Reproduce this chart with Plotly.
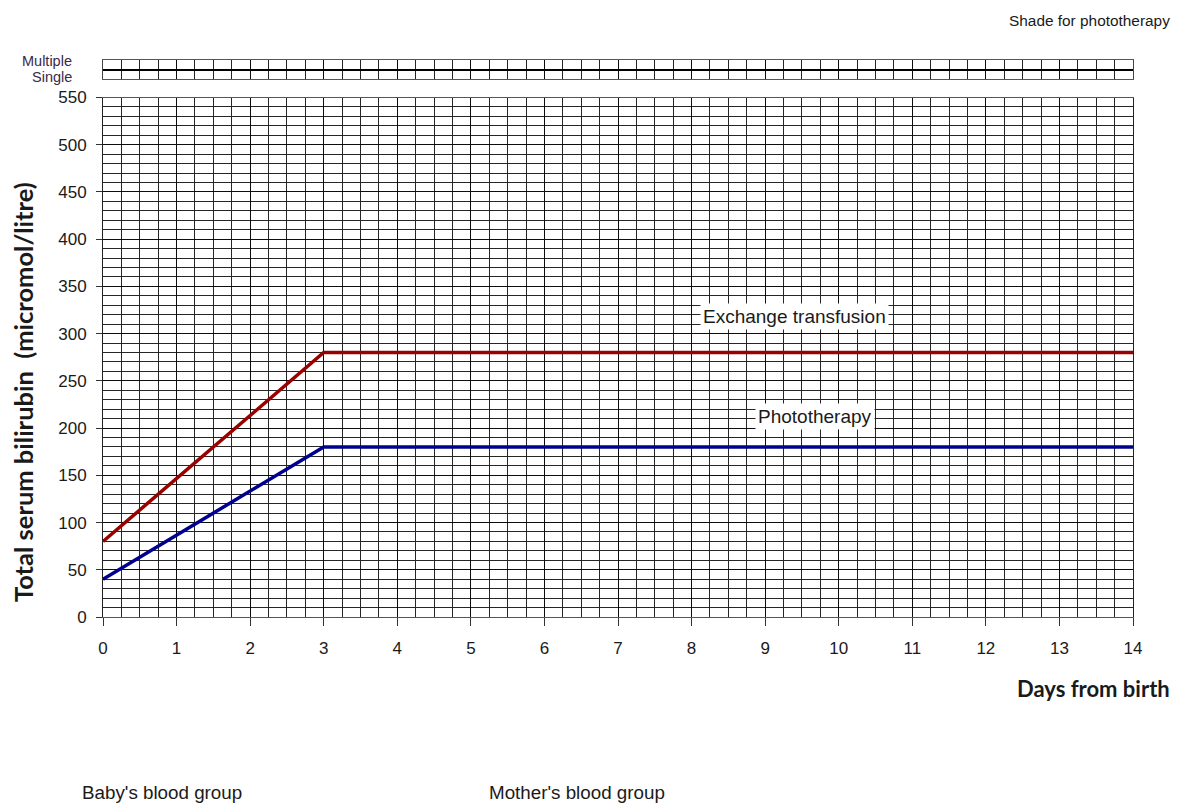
import plotly.graph_objects as go

# ---- data ----
days = [0, 3, 14]
exchange_transfusion = [80, 280, 280]
phototherapy = [40, 180, 180]

x_tick_vals = list(range(0, 15))
y_tick_vals = list(range(0, 551, 50))

label_exchange = "Exchange transfusion"
label_photo = "Phototherapy"

# page body has an 8px default margin: size the figure to end at the window edge
OFF = 8
W, H = 1182 - OFF, 803 - OFF

def px_x(p):
    return (p - OFF) / W

def px_y(p):
    return 1 - (p - OFF) / H

TXT = "#1a1a1a"
GRID_MAJ = "#0d0d0d"
GRID_MIN = "#262626"
FONT = "Liberation Sans, Arial, sans-serif"
BOLD = "Lato, Carlito, sans-serif"

fig = go.Figure()

fig.add_trace(go.Scatter(x=days, y=exchange_transfusion, mode="lines",
                         line=dict(color="#990000", width=3.5),
                         showlegend=False, hoverinfo="skip"))
fig.add_trace(go.Scatter(x=days, y=phototherapy, mode="lines",
                         line=dict(color="#00008f", width=3.5),
                         showlegend=False, hoverinfo="skip"))
# empty trace to materialise the top strip subplot
fig.add_trace(go.Scatter(x=[], y=[], xaxis="x2", yaxis="y2",
                         showlegend=False, hoverinfo="skip"))

x_dom = [px_x(103), px_x(1133)]

fig.update_layout(
    width=W, height=H, autosize=False,
    margin=dict(l=0, r=0, t=0, b=0, pad=0, autoexpand=False),
    paper_bgcolor="white", plot_bgcolor="white",
    font=dict(family=FONT, color=TXT),
    xaxis=dict(
        domain=x_dom, range=[0, 14], anchor="y", automargin=False,
        tickmode="array", tickvals=x_tick_vals,
        ticks="outside", ticklen=8, tickcolor="#333", tickwidth=1,
        tickfont=dict(size=17, family=FONT, color=TXT),
        ticklabelstandoff=8,
        showgrid=True, gridcolor=GRID_MAJ, gridwidth=1.2,
        minor=dict(dtick=0.25, showgrid=True, gridcolor=GRID_MIN, gridwidth=1.1),
        showline=True, linecolor="#555", linewidth=1, mirror=True,
        zeroline=False,
    ),
    yaxis=dict(
        domain=[px_y(617), px_y(97.5)], range=[0, 550], anchor="x", automargin=False,
        tickmode="array", tickvals=y_tick_vals,
        ticks="outside", ticklen=6, tickcolor="#333", tickwidth=1,
        tickfont=dict(size=17, family=FONT, color=TXT),
        ticklabelstandoff=6,
        showgrid=True, gridcolor=GRID_MAJ, gridwidth=1.2,
        minor=dict(dtick=10, showgrid=True, gridcolor=GRID_MIN, gridwidth=1.1),
        showline=True, linecolor="#222", linewidth=1, mirror=True,
        zeroline=False,
    ),
    xaxis2=dict(
        domain=x_dom, range=[0, 14], anchor="y2", matches="x", automargin=False,
        showticklabels=False, ticks="",
        dtick=1, showgrid=True, gridcolor=GRID_MAJ, gridwidth=1.2,
        minor=dict(dtick=0.25, showgrid=True, gridcolor=GRID_MIN, gridwidth=1.1),
        showline=True, linecolor="#555", linewidth=1, mirror=True,
        zeroline=False,
    ),
    yaxis2=dict(
        domain=[px_y(79), px_y(60)], range=[0, 2], anchor="x2", automargin=False,
        showticklabels=False, ticks="", dtick=1,
        showgrid=True, gridcolor="#000", gridwidth=1.5,
        showline=True, linecolor="#444", linewidth=1, mirror=True,
        zeroline=False,
    ),
)

def paper_text(text, x, y, xanchor, size, family=FONT, color=TXT, angle=0):
    return dict(x=px_x(x), y=px_y(y), xref="paper", yref="paper",
                xanchor=xanchor, yanchor="middle", text=text, textangle=angle,
                showarrow=False, font=dict(size=size, family=family, color=color))

ann = []
ann.append(dict(x=9.4, y=318, xref="x", yref="y", text=label_exchange,
                showarrow=False, bgcolor="white", borderpad=2,
                font=dict(size=19, family=FONT, color=TXT)))
ann.append(dict(x=9.68, y=212, xref="x", yref="y", text=label_photo,
                showarrow=False, bgcolor="white", borderpad=2,
                font=dict(size=19, family=FONT, color=TXT)))
ann.append(paper_text("<b>Total serum bilirubin  (micromol/litre)</b>", 23, 392,
                      "center", 25.5, family=BOLD, angle=-90))
ann.append(paper_text("<b>Days from birth</b>", 1172, 688, "right", 22, family=BOLD))
ann.append(paper_text("Baby's blood group", 80, 792, "left", 18.8))
ann.append(paper_text("Mother's blood group", 487, 792, "left", 18.8))
ann.append(paper_text("Shade for phototherapy", 1172, 21, "right", 15.4))
ann.append(paper_text("Multiple", 74, 61, "right", 14.5, color="#3a2a4a"))
ann.append(paper_text("Single", 74, 77, "right", 14.5, color="#3a2a4a"))
fig.update_layout(annotations=ann)

fig.write_html("out.html")
